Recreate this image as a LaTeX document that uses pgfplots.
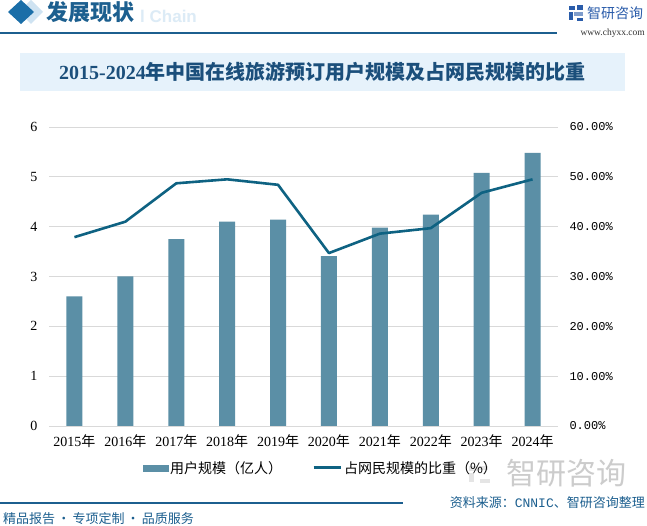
\documentclass[border=0pt]{standalone}
\usepackage{pgfplots}
\pgfplotsset{compat=1.18}
\usepackage{fontspec}
\setmainfont{Liberation Serif}
\newfontfamily\cjk{Noto Sans CJK SC}
\newfontfamily\mono{Liberation Mono}
\newfontfamily\sans{Liberation Sans}
\definecolor{barcol}{HTML}{5B8FA6}
\definecolor{linecol}{HTML}{0E6282}
\definecolor{gridcol}{HTML}{D9D9D9}
\definecolor{headblue}{HTML}{1C5F8F}
\definecolor{titlecol}{HTML}{1B4F7B}
\definecolor{titlebg}{HTML}{E6F2FB}
\definecolor{diamond}{HTML}{1A6EA8}
\definecolor{diamondlight}{HTML}{CFE3F2}
\definecolor{logoblue}{HTML}{2A5CAA}
\definecolor{chainblue}{HTML}{DCEBF6}
\begin{document}
\begin{tikzpicture}[x=1pt,y=1pt]
\path[use as bounding box, fill=white] (0,0) rectangle (647,526);
% header
\fill[diamondlight] (31,526) -- (43,514) -- (31,502) -- (19,514) -- cycle;
\fill[diamond] (21,526) -- (34,514) -- (21,502) -- (8,514) -- cycle;
\node[anchor=west, text=chainblue, inner sep=0] at (140,510) {\sans\bfseries\fontsize{17}{19}\selectfont l Chain};
\node[anchor=west, text=headblue, inner sep=0] at (46,514) {\cjk\bfseries\fontsize{22}{24}\selectfont 发展现状};
\draw[headblue, line width=1.3pt] (0,493) -- (557,493);
% logo
\fill[logoblue] (569,520) rectangle (575,516);
\fill[logoblue] (569,514) rectangle (573,506);
\fill[logoblue!60] (574,514) rectangle (583,510);
\fill[logoblue] (577,521) rectangle (583,516);
\fill[logoblue] (577,508) rectangle (583,505);
\node[anchor=west, text=logoblue, inner sep=0] at (587,513) {\cjk\fontsize{14}{16}\selectfont 智研咨询};
\node[anchor=east, text=black!80, inner sep=0] at (645,493) {\fontsize{9.5}{11}\selectfont www.chyxx.com};
% title
\fill[titlebg] (20,435) rectangle (625,473);
\node[text=titlecol, inner sep=0] at (322.5,454) {\bfseries\fontsize{20}{22}\selectfont 2015-2024{\cjk 年中国在线旅游预订用户规模及占网民规模的比重}};
% watermark logo bottom right
\fill[gray!20] (469,60) rectangle (478,55);
\fill[gray!20] (469,53) rectangle (474,44);
\fill[gray!20] (479,60) rectangle (488,56);
\fill[gray!20] (480,47) rectangle (490,43);
\node[text=gray!40, inner sep=0] at (566,53) {\cjk\fontsize{30}{32}\selectfont 智研咨询};
% footer
\draw[headblue, line width=1.2pt] (0,23) -- (403,23);
\node[anchor=west, text=headblue, inner sep=0] at (3,7) {\cjk\fontsize{13}{15}\selectfont 精品报告\,·\,专项定制\,·\,品质服务};
\node[anchor=east, text=headblue, inner sep=0] at (645,23) {\cjk\fontsize{13}{15}\selectfont 资料来源：{\mono CNNIC}、智研咨询整理};

\begin{axis}[
  at={(49pt,100pt)}, anchor=south west,
  scale only axis, width=509pt, height=299pt,
  xmin=-0.5, xmax=9.5, ymin=0, ymax=6,
  axis y line*=left, axis x line*=bottom,
  axis line style={draw=none},
  major tick style={draw=none},
  ytick={0,1,2,3,4,5,6},
  ymajorgrids, grid style={draw=gridcol, line width=0.8pt},
  xtick={0,1,2,3,4,5,6,7,8,9},
  xticklabels={2015{\cjk 年},2016{\cjk 年},2017{\cjk 年},2018{\cjk 年},2019{\cjk 年},2020{\cjk 年},2021{\cjk 年},2022{\cjk 年},2023{\cjk 年},2024{\cjk 年}},
  xticklabel style={font=\fontsize{14}{16}\selectfont, yshift=-1pt},
  yticklabel style={font=\fontsize{14}{16}\selectfont, xshift=-8pt},
  /pgf/number format/assume math mode=true,
  ybar, bar width=16pt,
]
\addplot[fill=barcol, draw=none] coordinates {
(0,2.60) (1,3.00) (2,3.75) (3,4.10) (4,4.14) (5,3.41) (6,3.98) (7,4.24) (8,5.08) (9,5.48)};
\end{axis}

\begin{axis}[
  at={(49pt,100pt)}, anchor=south west,
  scale only axis, width=509pt, height=299pt,
  xmin=-0.5, xmax=9.5, ymin=0, ymax=60,
  axis y line*=right, axis x line=none,
  axis line style={draw=none},
  major tick style={draw=none},
  ytick={0,10,20,30,40,50,60},
  yticklabel={\pgfmathprintnumber[fixed,fixed zerofill,precision=2]{\tick}\%},
  yticklabel style={font=\mono\fontsize{12}{14}\selectfont, xshift=8pt},
  /pgf/number format/assume math mode=true,
  legend columns=2,
  legend style={at={(0.534,-0.14)}, anchor=center, draw=none, fill=none,
    font=\cjk\fontsize{14}{16}\selectfont,
    /tikz/every even column/.append style={column sep=28pt}},
]
\addlegendimage{legend image code/.code={\fill[barcol] (0pt,-3pt) rectangle (25pt,3pt);}}
\addlegendentry{用户规模（亿人）}
\addplot[linecol, line width=2.6pt, line join=round,
  legend image code/.code={\draw[linecol, line width=3pt] (0pt,0pt) -- (27pt,0pt);}] coordinates {
(0,37.9) (1,41.0) (2,48.7) (3,49.5) (4,48.4) (5,34.7) (6,38.6) (7,39.7) (8,46.8) (9,49.5)};
\addlegendentry{占网民规模的比重（\%）}
\end{axis}
\end{tikzpicture}
\end{document}
